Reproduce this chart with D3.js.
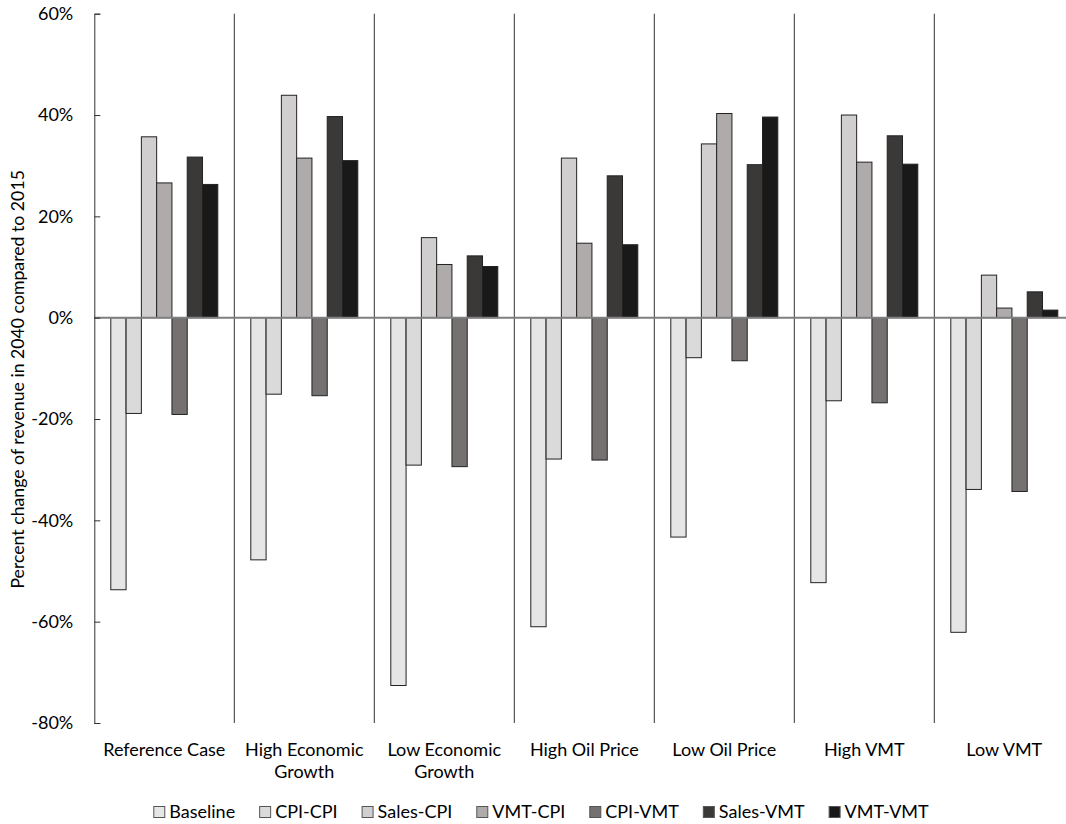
<!DOCTYPE html>
<html>
<head>
<meta charset="utf-8">
<script src="https://cdn.jsdelivr.net/npm/d3@7"></script>
<style>
  body { margin: 0; background: #fff; }
  svg { display: block; font-family: "Lato", "Open Sans", sans-serif; }
</style>
</head>
<body>
<div id="chart"></div>
<script>
// scenarios on the x axis
const categories = ["Reference Case", "High Economic Growth", "Low Economic Growth",
  "High Oil Price", "Low Oil Price", "High VMT", "Low VMT"];
const categoryLines = [["Reference Case"], ["High Economic", "Growth"], ["Low Economic", "Growth"],
  ["High Oil Price"], ["Low Oil Price"], ["High VMT"], ["Low VMT"]];

// revenue change in percent, one value per scenario
const series = ["Baseline", "CPI-CPI", "Sales-CPI", "VMT-CPI", "CPI-VMT", "Sales-VMT", "VMT-VMT"];
const baseline = [-53.7, -47.8, -72.6, -61.0, -43.3, -52.3, -62.1];
const cpiCpi   = [-18.9, -15.1, -29.1, -27.9, -7.9, -16.4, -33.9];
const salesCpi = [35.7, 43.9, 15.8, 31.5, 34.3, 40.0, 8.4];
const vmtCpi   = [26.6, 31.5, 10.5, 14.7, 40.3, 30.7, 1.9];
const cpiVmt   = [-19.1, -15.4, -29.4, -28.1, -8.5, -16.8, -34.3];
const salesVmt = [31.7, 39.7, 12.2, 28.0, 30.2, 35.9, 5.1];
const vmtVmt   = [26.3, 31.0, 10.1, 14.4, 39.6, 30.3, 1.5];
const seriesValues = [baseline, cpiCpi, salesCpi, vmtCpi, cpiVmt, salesVmt, vmtVmt];

const yTicks = [-80, -60, -40, -20, 0, 20, 40, 60];
const colors = ["#e6e6e6", "#dadada", "#d0cece", "#afabab", "#767171", "#3b3838", "#191919"];

const width = 1066, height = 824;

const svg = d3.select("#chart").append("svg")
  .attr("width", width)
  .attr("height", height);

const y = d3.scaleLinear().domain([-80, 60]).range([723, 13.7]);
const x0 = d3.scaleBand().domain(categories).range([94.3, 1074.3]).padding(0);
const x1 = d3.scaleBand().domain(series).range([16.5, 123.5]).padding(0);

// category separators
svg.append("g")
  .selectAll("line")
  .data(categories.slice(1))
  .enter()
  .append("line")
  .attr("x1", (d) => x0(d))
  .attr("x2", (d) => x0(d))
  .attr("y1", y(60))
  .attr("y2", y(-80))
  .attr("stroke", "#333")
  .attr("stroke-width", 1);

// bars
const table = [];
categories.forEach((c, i) => {
  series.forEach((s, j) => table.push({ cat: c, series: s, value: seriesValues[j][i], color: colors[j] }));
});

svg.append("g")
  .selectAll("rect")
  .data(table)
  .enter()
  .append("rect")
  .attr("x", (d) => x0(d.cat) + x1(d.series))
  .attr("width", x1.bandwidth())
  .attr("y", (d) => y(Math.max(0, d.value)))
  .attr("height", (d) => Math.abs(y(d.value) - y(0)))
  .attr("fill", (d) => d.color)
  .attr("stroke", "#222")
  .attr("stroke-width", 1);

// zero line
svg.append("line")
  .attr("x1", x0.range()[0])
  .attr("x2", x0.range()[1])
  .attr("y1", y(0))
  .attr("y2", y(0))
  .attr("stroke", "#7f7f7f")
  .attr("stroke-width", 2);

// y axis, ticks point inward
const yAxis = svg.append("g")
  .attr("transform", `translate(${x0.range()[0]},0)`)
  .call(d3.axisLeft(y).tickValues(yTicks).tickSize(-6).tickPadding(21).tickFormat((d) => d + "%"));
yAxis.select(".domain").attr("stroke", "#333");
yAxis.selectAll(".tick line").attr("stroke", "#333");
yAxis.selectAll("text")
  .attr("font-family", "Lato")
  .attr("font-size", 18)
  .attr("fill", "#000");

// y title
svg.append("text")
  .attr("transform", `translate(24,${y(-10) + 11}) rotate(-90)`)
  .attr("text-anchor", "middle")
  .attr("font-size", 17.7)
  .attr("fill", "#000")
  .text("Percent change of revenue in 2040 compared to 2015");

// category labels
const catLabels = svg.append("g")
  .selectAll("text")
  .data(categories)
  .enter()
  .append("text")
  .attr("x", (d) => x0(d) + x0.bandwidth() / 2)
  .attr("y", 756)
  .attr("text-anchor", "middle")
  .attr("font-size", 18)
  .attr("fill", "#000");
catLabels.each(function (d, i) {
  const t = d3.select(this);
  categoryLines[i].forEach((line, k) => {
    t.append("tspan")
      .attr("x", x0(d) + x0.bandwidth() / 2)
      .attr("dy", k === 0 ? 0 : 22)
      .text(line);
  });
});

// legend
const legend = svg.append("g");
let lx = 0;
series.forEach((s, j) => {
  const item = legend.append("g").attr("transform", `translate(${lx},0)`);
  item.append("rect")
    .attr("x", 0.5)
    .attr("y", 806.5)
    .attr("width", 11)
    .attr("height", 11)
    .attr("fill", colors[j])
    .attr("stroke", "#555");
  const txt = item.append("text")
    .attr("x", 16)
    .attr("y", 818)
    .attr("font-size", 18)
    .attr("fill", "#000")
    .text(s);
  lx += 16 + txt.node().getComputedTextLength() + 24;
});
const legendWidth = lx - 24;
legend.attr("transform", `translate(${541 - legendWidth / 2},0)`);
</script>
</body>
</html>
